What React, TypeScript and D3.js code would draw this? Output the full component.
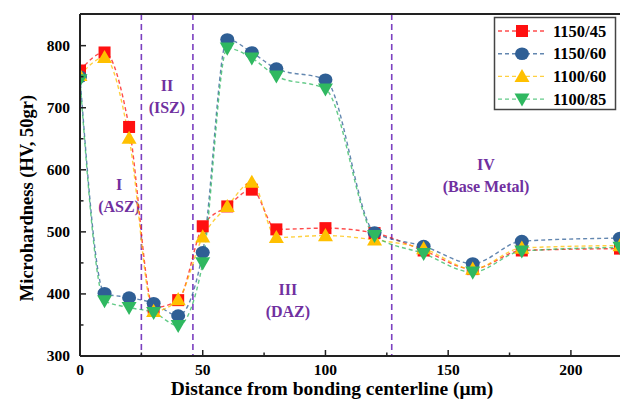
import React from "react";
import * as d3 from "d3";

// Distance from bonding centerline (μm)
const distances = [0, 10, 20, 30, 40, 50, 60, 70, 80, 100, 120, 140, 160, 180, 220];

// Microhardness (HV, 50gr) per bonding condition
const hv1150_45 = [760, 789, 669, 378, 390, 509, 541, 568, 504, 506, 498, 470, 440, 470, 473];
const hv1150_60 = [750, 401, 394, 385, 365, 467, 810, 789, 763, 745, 499, 477, 449, 485, 490];
const hv1100_60 = [752, 781, 651, 372, 391, 492, 541, 580, 491, 494, 487, 473, 440, 474, 478];
const hv1100_85 = [745, 389, 378, 370, 349, 450, 796, 780, 751, 730, 494, 465, 435, 469, 475];

const seriesNames = ["1150/45", "1150/60", "1100/60", "1100/85"];
const seriesColors = ["#ff1010", "#2f5f95", "#ffc000", "#2fb860"];
const seriesMarkers = ["square", "circle", "triangleUp", "triangleDown"];

const xTicks = [0, 50, 100, 150, 200];
const xMinorTicks = [25, 75, 125, 175];
const yTicks = [300, 400, 500, 600, 700, 800];
const yMinorTicks = [350, 450, 550, 650, 750];

// Zone boundaries and labels
const zoneLines = [25, 46, 127];
const zoneLabels = [
  { x: 15.9, y: 567, lines: ["I", "(ASZ)"] },
  { x: 35.4, y: 727, lines: ["II", "(ISZ)"] },
  { x: 84.7, y: 398, lines: ["III", "(DAZ)"] },
  { x: 165.4, y: 599, lines: ["IV", "(Base Metal)"] },
];

const W = 620;
const H = 403;
const M = { left: 80, top: 14, right: 0, bottom: 47 };
const FONT = "'Liberation Serif', 'Times New Roman', serif";
const PURPLE = "#7030a0";

function Marker({ kind, x, y, color }: { kind: string; x: number; y: number; color: string }) {
  if (kind === "square") return <rect x={x - 6} y={y - 6} width={12} height={12} fill={color} />;
  if (kind === "circle") return <ellipse cx={x} cy={y} rx={7} ry={6.3} fill={color} />;
  const s = 7.5;
  const pts =
    kind === "triangleUp"
      ? [[x, y - s], [x - s, y + s * 0.75], [x + s, y + s * 0.75]]
      : [[x, y + s], [x - s, y - s * 0.75], [x + s, y - s * 0.75]];
  return <polygon points={pts.map((p) => p.join(",")).join(" ")} fill={color} />;
}

export default function App() {
  const x = d3.scaleLinear().domain([0, 220]).range([M.left, W - M.right]);
  const y = d3.scaleLinear().domain([300, 851]).range([H - M.bottom, M.top]);
  const all = [hv1150_45, hv1150_60, hv1100_60, hv1100_85];
  const line = d3
    .line<number>()
    .x((_, i) => x(distances[i]))
    .y((v) => y(v))
    .curve(d3.curveMonotoneX);

  const x0 = x(0);
  const yb = y(300);
  return (
    <svg width={W} height={H} style={{ position: "fixed", left: 0, top: 0, background: "#fff" }} fontFamily={FONT}>
      <defs>
        <clipPath id="plotArea">
          <rect x={M.left} y={M.top} width={W - M.left} height={yb - M.top} />
        </clipPath>
      </defs>

      {/* zone boundaries */}
      {zoneLines.map((v) => (
        <line key={v} x1={x(v)} x2={x(v)} y1={M.top} y2={yb} stroke="#7b3fc0" strokeWidth={1.6} strokeDasharray="6,4" />
      ))}
      {zoneLabels.map((z, i) => (
        <text key={i} fill={PURPLE} fontSize={16} fontWeight="bold" textAnchor="middle">
          {z.lines.map((t, j) => (
            <tspan key={j} x={x(z.x)} y={y(z.y) + j * 22}>
              {t}
            </tspan>
          ))}
        </text>
      ))}

      {/* series */}
      <g clipPath="url(#plotArea)">
        {all.map((vals, k) => (
          <path key={k} d={line(vals) || ""} fill="none" stroke={seriesColors[k]} strokeOpacity={0.75} strokeWidth={1.4} strokeDasharray="4,3" />
        ))}
        {all.map((vals, k) => (
          <g key={k}>
            {vals.map((v, i) => (
              <Marker key={i} kind={seriesMarkers[k]} x={x(distances[i])} y={y(v)} color={seriesColors[k]} />
            ))}
          </g>
        ))}
      </g>

      {/* frame */}
      <line x1={x0} x2={W} y1={M.top} y2={M.top} stroke="#222" strokeWidth={2} />
      <line x1={x0} x2={x0} y1={M.top} y2={yb} stroke="#222" strokeWidth={2} />
      <line x1={x0} x2={W} y1={yb} y2={yb} stroke="#222" strokeWidth={2} />

      {/* x axis */}
      {xTicks.map((t) => (
        <g key={t}>
          <line x1={x(t)} x2={x(t)} y1={yb} y2={yb - 6} stroke="#222" strokeWidth={1.5} />
          <text x={x(t)} y={yb + 19} fontSize={15.5} fontWeight="bold" textAnchor="middle">
            {t}
          </text>
        </g>
      ))}
      {xMinorTicks.map((t) => (
        <line key={t} x1={x(t)} x2={x(t)} y1={yb} y2={yb - 3.5} stroke="#222" strokeWidth={1.5} />
      ))}
      <text x={332} y={395} fontSize={19.5} fontWeight="bold" textAnchor="middle">
        Distance from bonding centerline (μm)
      </text>

      {/* y axis */}
      {yTicks.map((t) => (
        <g key={t}>
          <line x1={x0} x2={x0 + 6} y1={y(t)} y2={y(t)} stroke="#222" strokeWidth={1.5} />
          <text x={x0 - 10} y={y(t) + 5} fontSize={15.5} fontWeight="bold" textAnchor="end">
            {t}
          </text>
        </g>
      ))}
      {yMinorTicks.map((t) => (
        <line key={t} x1={x0} x2={x0 + 3.5} y1={y(t)} y2={y(t)} stroke="#222" strokeWidth={1.5} />
      ))}
      <text transform="translate(33,198) rotate(-90)" fontSize={18.5} fontWeight="bold" textAnchor="middle">
        Microhardness (HV, 50gr)
      </text>

      {/* legend */}
      <rect x={494.5} y={17.5} width={121} height={92} fill="#fff" stroke="#444" strokeWidth={1.5} />
      {seriesNames.map((name, k) => {
        const ly = 31 + k * 22.7;
        return (
          <g key={name}>
            <line x1={498} x2={546} y1={ly} y2={ly} stroke={seriesColors[k]} strokeOpacity={0.75} strokeWidth={1.4} strokeDasharray="4,3" />
            <Marker kind={seriesMarkers[k]} x={522} y={ly} color={seriesColors[k]} />
            <text x={553} y={ly + 5.5} fontSize={16.5} fontWeight="bold">
              {name}
            </text>
          </g>
        );
      })}
    </svg>
  );
}
